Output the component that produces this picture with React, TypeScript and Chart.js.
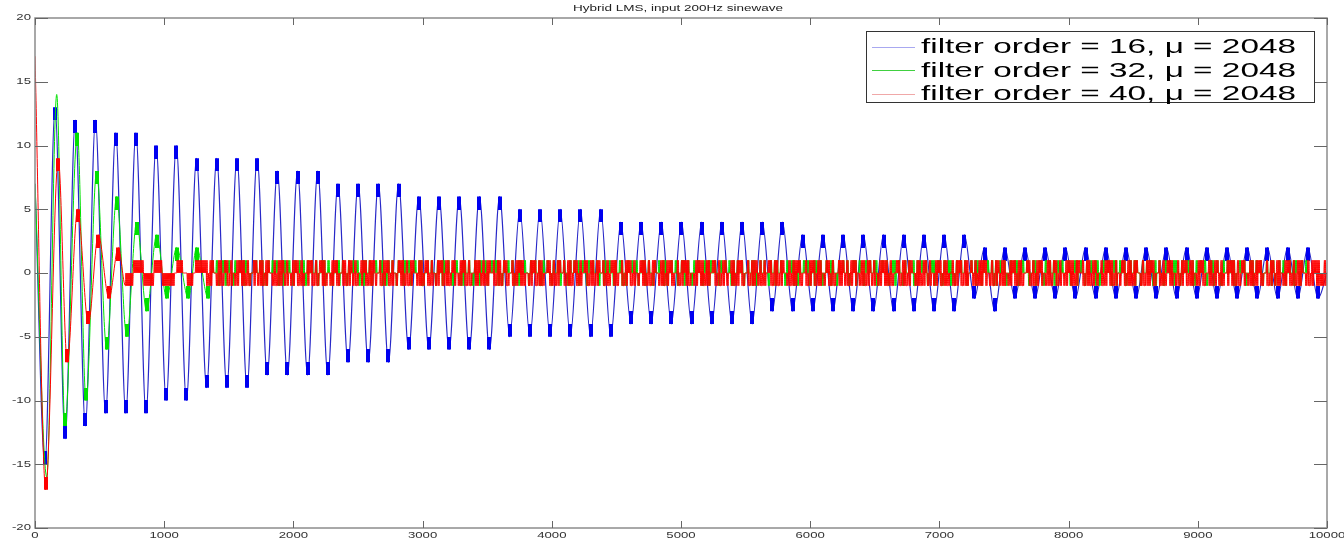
import React, { useEffect, useRef } from 'react';
import { Chart, registerables } from 'chart.js';

Chart.register(...registerables);

// ---------------- data ----------------
const TITLE = 'Hybrid LMS, input 200Hz sinewave';
const LEGEND_LABELS = [
  'filter order = 16, \u03bc = 2048',
  'filter order = 32, \u03bc = 2048',
  'filter order = 40, \u03bc = 2048',
];
const X_TICKS = [0, 1000, 2000, 3000, 4000, 5000, 6000, 7000, 8000, 9000, 10000];
const Y_TICKS = [-20, -15, -10, -5, 0, 5, 10, 15, 20];

// order 16 (blue): slowly decaying 200 Hz sine, one trough/peak every half period
const BLUE_START_VALUE = 7;
const BLUE_END_VALUE = 0;
const BLUE_FIRST_EXTREME = 77; // sample of the first trough
const BLUE_HALF_PERIOD = 78.2; // samples between trough and peak
const BLUE_TROUGHS = [
  -15, -13, -12, -11, -11, -11, -10, -10, -9, -9, -9, -8, -8, -8, -8,
  -7, -7, -7, -6, -6, -6, -6, -6, -5, -5, -5, -5, -5, -5,
  -4, -4, -4, -4, -4, -4, -4, -3, -3, -3, -3, -3, -3, -3, -3, -3, -3,
  -2, -3, -2, -2, -2, -2, -2, -2, -2, -2, -2, -2, -2, -2, -2, -2, -2, -2,
];
const BLUE_PEAKS = [
  13, 12, 12, 11, 11, 10, 10, 9, 9, 9, 9, 8, 8, 8,
  7, 7, 7, 7, 6, 6, 6, 6, 6, 5, 5, 5, 5, 5,
  4, 4, 4, 4, 4, 4, 4, 4, 4, 3, 3, 3, 3, 3, 3, 3, 3, 3,
  2, 2, 2, 2, 2, 2, 2, 2, 2, 2, 2, 2, 2, 2, 2, 2, 2,
];

// order 40 (red): fast decay, then quantisation noise in {-1, 0, 1}
const RED_EARLY_X = [0, 83, 180, 250, 330, 413, 490, 573, 645];
const RED_EARLY_Y = [17, -17, 9, -7, 5, -4, 3, -2, 2];

// Noise strings: one character per 16 samples, read as a burst code
//   '+' toggles 0/+1, '-' toggles 0/-1, 'x' toggles -1/+1, '0' rests at 0
const NOISE_STEP = 16;
const NOISE_SUBSTEP = 4;
const RED_NOISE_START = 700;
const RED_NOISE = [
  '----+++++-----++++------0+++00---0+++++',
  'x-x+0-xx-+x-x0-x+xx-x-0x+-xx-x+0-x-xx+-x0-x+x-x-0x+x-x-+xx-0',
  '-x+x-0xx-x+-x-0x+x-xx+-0x-x+x-x0-+xx-x-x+0-xx-+x-x0-x+x-xx-+',
  'x0-x+x-x-0xx+-x-x+0x-xx-+x-0x-x+xx-0-x+x-xx-0+x-x-x+0x-xx-+x',
  '-x0+x-xx-x+0x-x-+xx-0x-x+x-x0-+xx-x-x+0-xx-x+x-0x-x+xx-0-x+x',
  'x-xx0+x-x-x+-0xx-x+x-0x-xx+-x-x0+x-xx-x+0-x-xx+x-0x-x+x-xx0-',
  '+x-x-0xx+-x-x+x0-xx-x+-x0-x+xx-x-0+x-xx-x+0-xx-x+-x0-x+x-xx-',
  '0x-x+x-xx0+-x-xx+x0-x-x+-xx0-x+x-xx-0+x-x-x+x0-xx-+x-x0-x+xx',
  '-x+0x-xx-x+-0x-x+xx-x0-+x-xx-x+0-x-xx+x-0x-x-+xx0-x-x+x-xx0-',
  'x+x-0xx-x+-x-0x+xx-x-+x0-xx-x+x-0x-x+-xx0-x+x-x-xx+0-x-x+xx-',
  '-x0x',
];

// order 32 (green): medium decay, then quantisation noise
const GREEN_EARLY_X = [0, 91, 168, 232, 328, 395, 477, 555, 632, 710, 787, 864, 942, 1019, 1097, 1187, 1251, 1341];
const GREEN_EARLY_Y = [7, -16, 14, -12, 11, -10, 8, -6, 6, -5, 4, -3, 3, -2, 2, -2, 2, -2];
const GREEN_NOISE_START = 1372;
const GREEN_NOISE = [
  '+0+-0+x0+0-+0+0x+0-0++0+x0-+0+0+-0x+0+0-+0+0x-+0+0+-0+x0+0-',
  '0+x0+0-+0+0+-0x+0+-0+0+x0-+0+0-+0x+0+-0+0+x-0+0+0-+0x+0+0-+',
  '+0-x+0+0-+0x+0+-0+0+x0-+0+0+-0x+0+0-+0+0x-+0+0-+0+x0+0-+0+0',
  'x0+0-+0+0+-0x+0+0-+0+x0-+0+0+-0+x0+0-+0+0x+-0+0+-0+x0+0-+0+',
  '0-+0x+0+0-+0+0+-x0+0+-0+0x+-0+0+0-+0x+0+0-+0+x0-+0+0+-0x+0+',
  '-0+0x+0-+0+0+-0+x0+0-+0+0+x-0+0+-0+x0+0-+0+0x-+0+0+-0+x0+0-',
  '+0+x0-+0+0+-0+0x+0-+0+0+-x0+0+-0+0+x-0+0+-0+x0+0-+0+0x-+0+0',
  '0+-0+x0+0-+0+0x+-0+0+0-+x0+0+-0+0x+0-+0+0+-x0+0-+0+0x+0-+0+',
  '+0x-+0+0+-0+x0+0-+0+0+x-0+0+-0+x0+0+-0+0x+-0+0+-0+0x+0-+0+0',
];

// ---------------- helpers ----------------
const BURSTS: Record<string, number[]> = {
  '+': [1, 0, 1, 0],
  '-': [-1, 0, -1, 0],
  x: [1, -1, 1, -1],
  '0': [0, 0, 0, 0],
};

function noisePoints(start: number, lines: string[]) {
  const chars = lines.join('').split('');
  const pts: { x: number; y: number }[] = [];
  chars.forEach((c, i) => {
    BURSTS[c].forEach((v, j) => {
      const x = start + i * NOISE_STEP + j * NOISE_SUBSTEP;
      if (x <= 10000) pts.push({ x, y: v });
    });
  });
  return pts;
}

function blockImage(color: string, upperHalf: boolean) {
  const c = document.createElement('canvas');
  c.width = 4;
  c.height = 26;
  const g = c.getContext('2d')!;
  g.fillStyle = color;
  if (upperHalf) g.fillRect(0, 0, 4, 13);
  else g.fillRect(0, 13, 4, 13);
  return c;
}

const framePlugin = {
  id: 'matlabFrame',
  afterDatasetsDraw(chart: any) {
    const { ctx, chartArea: a, scales } = chart;
    const x = scales.x;
    const y = scales.y;
    ctx.save();
    // box
    ctx.strokeStyle = '#8c8c8c';
    ctx.lineWidth = 1.5;
    ctx.strokeRect(a.left, a.top, a.right - a.left, a.bottom - a.top);
    // inward ticks
    ctx.strokeStyle = '#666';
    ctx.lineWidth = 1;
    ctx.beginPath();
    X_TICKS.forEach((v) => {
      const px = Math.round(x.getPixelForValue(v)) + 0.5;
      ctx.moveTo(px, a.bottom);
      ctx.lineTo(px, a.bottom - 7);
      ctx.moveTo(px, a.top);
      ctx.lineTo(px, a.top + 7);
    });
    Y_TICKS.forEach((v) => {
      const py = Math.round(y.getPixelForValue(v)) + 0.5;
      ctx.moveTo(a.left, py);
      ctx.lineTo(a.left + 13, py);
      ctx.moveTo(a.right, py);
      ctx.lineTo(a.right - 13, py);
    });
    ctx.stroke();

    // tick labels (stretched like the reference)
    const SX = 1.55;
    ctx.fillStyle = '#333';
    ctx.font = '8.5px "Liberation Sans", Arial, sans-serif';
    ctx.textBaseline = 'middle';
    Y_TICKS.forEach((v) => {
      const py = y.getPixelForValue(v);
      ctx.save();
      ctx.translate(a.left - 4, py);
      ctx.scale(SX, 1);
      ctx.textAlign = 'right';
      ctx.fillText(String(v), 0, 0);
      ctx.restore();
    });
    X_TICKS.forEach((v) => {
      const px = x.getPixelForValue(v);
      ctx.save();
      ctx.translate(px, a.bottom + 8);
      ctx.scale(SX, 1);
      ctx.textAlign = 'center';
      ctx.fillText(String(v), 0, 0);
      ctx.restore();
    });

    // title
    ctx.save();
    ctx.font = '8.5px "Liberation Sans", Arial, sans-serif';
    const tw = ctx.measureText(TITLE).width;
    ctx.translate(678, 9);
    ctx.scale(210 / tw, 1);
    ctx.textAlign = 'center';
    ctx.fillStyle = '#222';
    ctx.fillText(TITLE, 0, 0);
    ctx.restore();

    // legend
    const bx = 866.5, by = 31.5, bw = 448, bh = 71;
    ctx.fillStyle = '#fff';
    ctx.fillRect(bx, by, bw, bh);
    ctx.strokeStyle = '#333';
    ctx.lineWidth = 1;
    ctx.strokeRect(bx, by, bw, bh);
    const rows = [46.5, 70, 93.5];
    const lineColors = ['#a8a8f0', '#40d040', '#f0a8a8'];
    ctx.font = '21px "Liberation Sans", Arial, sans-serif';
    ctx.textAlign = 'left';
    LEGEND_LABELS.forEach((label, i) => {
      ctx.strokeStyle = lineColors[i];
      ctx.lineWidth = 1.2;
      ctx.beginPath();
      ctx.moveTo(872, Math.round(rows[i]) + 0.5);
      ctx.lineTo(915, Math.round(rows[i]) + 0.5);
      ctx.stroke();
      const w = ctx.measureText(label).width;
      ctx.save();
      ctx.translate(921, rows[i] + 1);
      ctx.scale(375 / w, 1);
      ctx.fillStyle = '#000';
      ctx.fillText(label, 0, 0);
      ctx.restore();
    });
    ctx.restore();
  },
};

export default function App() {
  const ref = useRef<HTMLCanvasElement>(null);

  useEffect(() => {
    const canvas = ref.current;
    if (!canvas) return;

    // blue series: start, alternating troughs/peaks, end
    const blue: { x: number; y: number }[] = [{ x: 0, y: BLUE_START_VALUE }];
    const blueIsExt: number[] = [0];
    BLUE_TROUGHS.forEach((t, k) => {
      blue.push({ x: BLUE_FIRST_EXTREME + 2 * k * BLUE_HALF_PERIOD, y: t });
      blueIsExt.push(-1);
      if (k < BLUE_PEAKS.length) {
        blue.push({ x: BLUE_FIRST_EXTREME + (2 * k + 1) * BLUE_HALF_PERIOD, y: BLUE_PEAKS[k] });
        blueIsExt.push(1);
      }
    });
    blue.push({ x: 10000, y: BLUE_END_VALUE });
    blueIsExt.push(0);

    const red = RED_EARLY_X.map((x, i) => ({ x, y: RED_EARLY_Y[i] })).concat(noisePoints(RED_NOISE_START, RED_NOISE));
    const redIsExt = red.map((_, i) => (i > 0 && i < RED_EARLY_X.length ? (RED_EARLY_Y[i] > 0 ? 1 : -1) : 0));
    const green = GREEN_EARLY_X.map((x, i) => ({ x, y: GREEN_EARLY_Y[i] })).concat(noisePoints(GREEN_NOISE_START, GREEN_NOISE));
    const greenIsExt = green.map((_, i) => (i > 2 && i < GREEN_EARLY_X.length ? (GREEN_EARLY_Y[i] > 0 ? 1 : -1) : 0));

    const mk = (color: string) => ({ peak: blockImage(color, false), trough: blockImage(color, true) });
    const bImg = mk('#0000f0');
    const rImg = mk('#ff0000');
    const gImg = mk('#00e000');
    const styleFor = (ext: number[], img: any) => ext.map((e) => (e > 0 ? img.peak : e < 0 ? img.trough : 'circle'));
    const radiusFor = (ext: number[]) => ext.map((e) => (e !== 0 ? 2 : 0));

    const common = {
      borderWidth: 1,
      pointBorderWidth: 0,
      pointHoverRadius: 0,
      cubicInterpolationMode: 'monotone' as const,
      fill: false,
    };

    const chart = new Chart(canvas, {
      type: 'line',
      data: {
        datasets: [
          {
            ...common,
            label: LEGEND_LABELS[2],
            data: red,
            borderColor: 'rgb(255,0,0)',
            pointStyle: styleFor(redIsExt, rImg) as any,
            pointRadius: radiusFor(redIsExt),
          },
          {
            ...common,
            label: LEGEND_LABELS[1],
            data: green,
            borderColor: 'rgb(0,225,0)',
            pointStyle: styleFor(greenIsExt, gImg) as any,
            pointRadius: radiusFor(greenIsExt),
          },
          {
            ...common,
            label: LEGEND_LABELS[0],
            data: blue,
            borderColor: 'rgb(40,40,200)',
            borderWidth: 1.2,
            pointStyle: styleFor(blueIsExt, bImg) as any,
            pointRadius: radiusFor(blueIsExt),
          },
        ],
      },
      options: {
        responsive: false,
        maintainAspectRatio: false,
        devicePixelRatio: 1,
        animation: false,
        events: [],
        layout: { padding: { left: 35, right: 17, top: 18, bottom: 15 } },
        plugins: {
          legend: { display: false },
          title: { display: false },
          tooltip: { enabled: false },
        },
        scales: {
          x: { type: 'linear', display: false, min: 0, max: 10000 },
          y: { type: 'linear', display: false, min: -20, max: 20 },
        },
      },
      plugins: [framePlugin],
    });

    return () => chart.destroy();
  }, []);

  return (
    <div style={{ position: 'absolute', left: 0, top: 0, width: 1344, height: 543, background: '#fff' }}>
      <canvas ref={ref} width={1344} height={543} style={{ display: 'block' }} />
    </div>
  );
}
